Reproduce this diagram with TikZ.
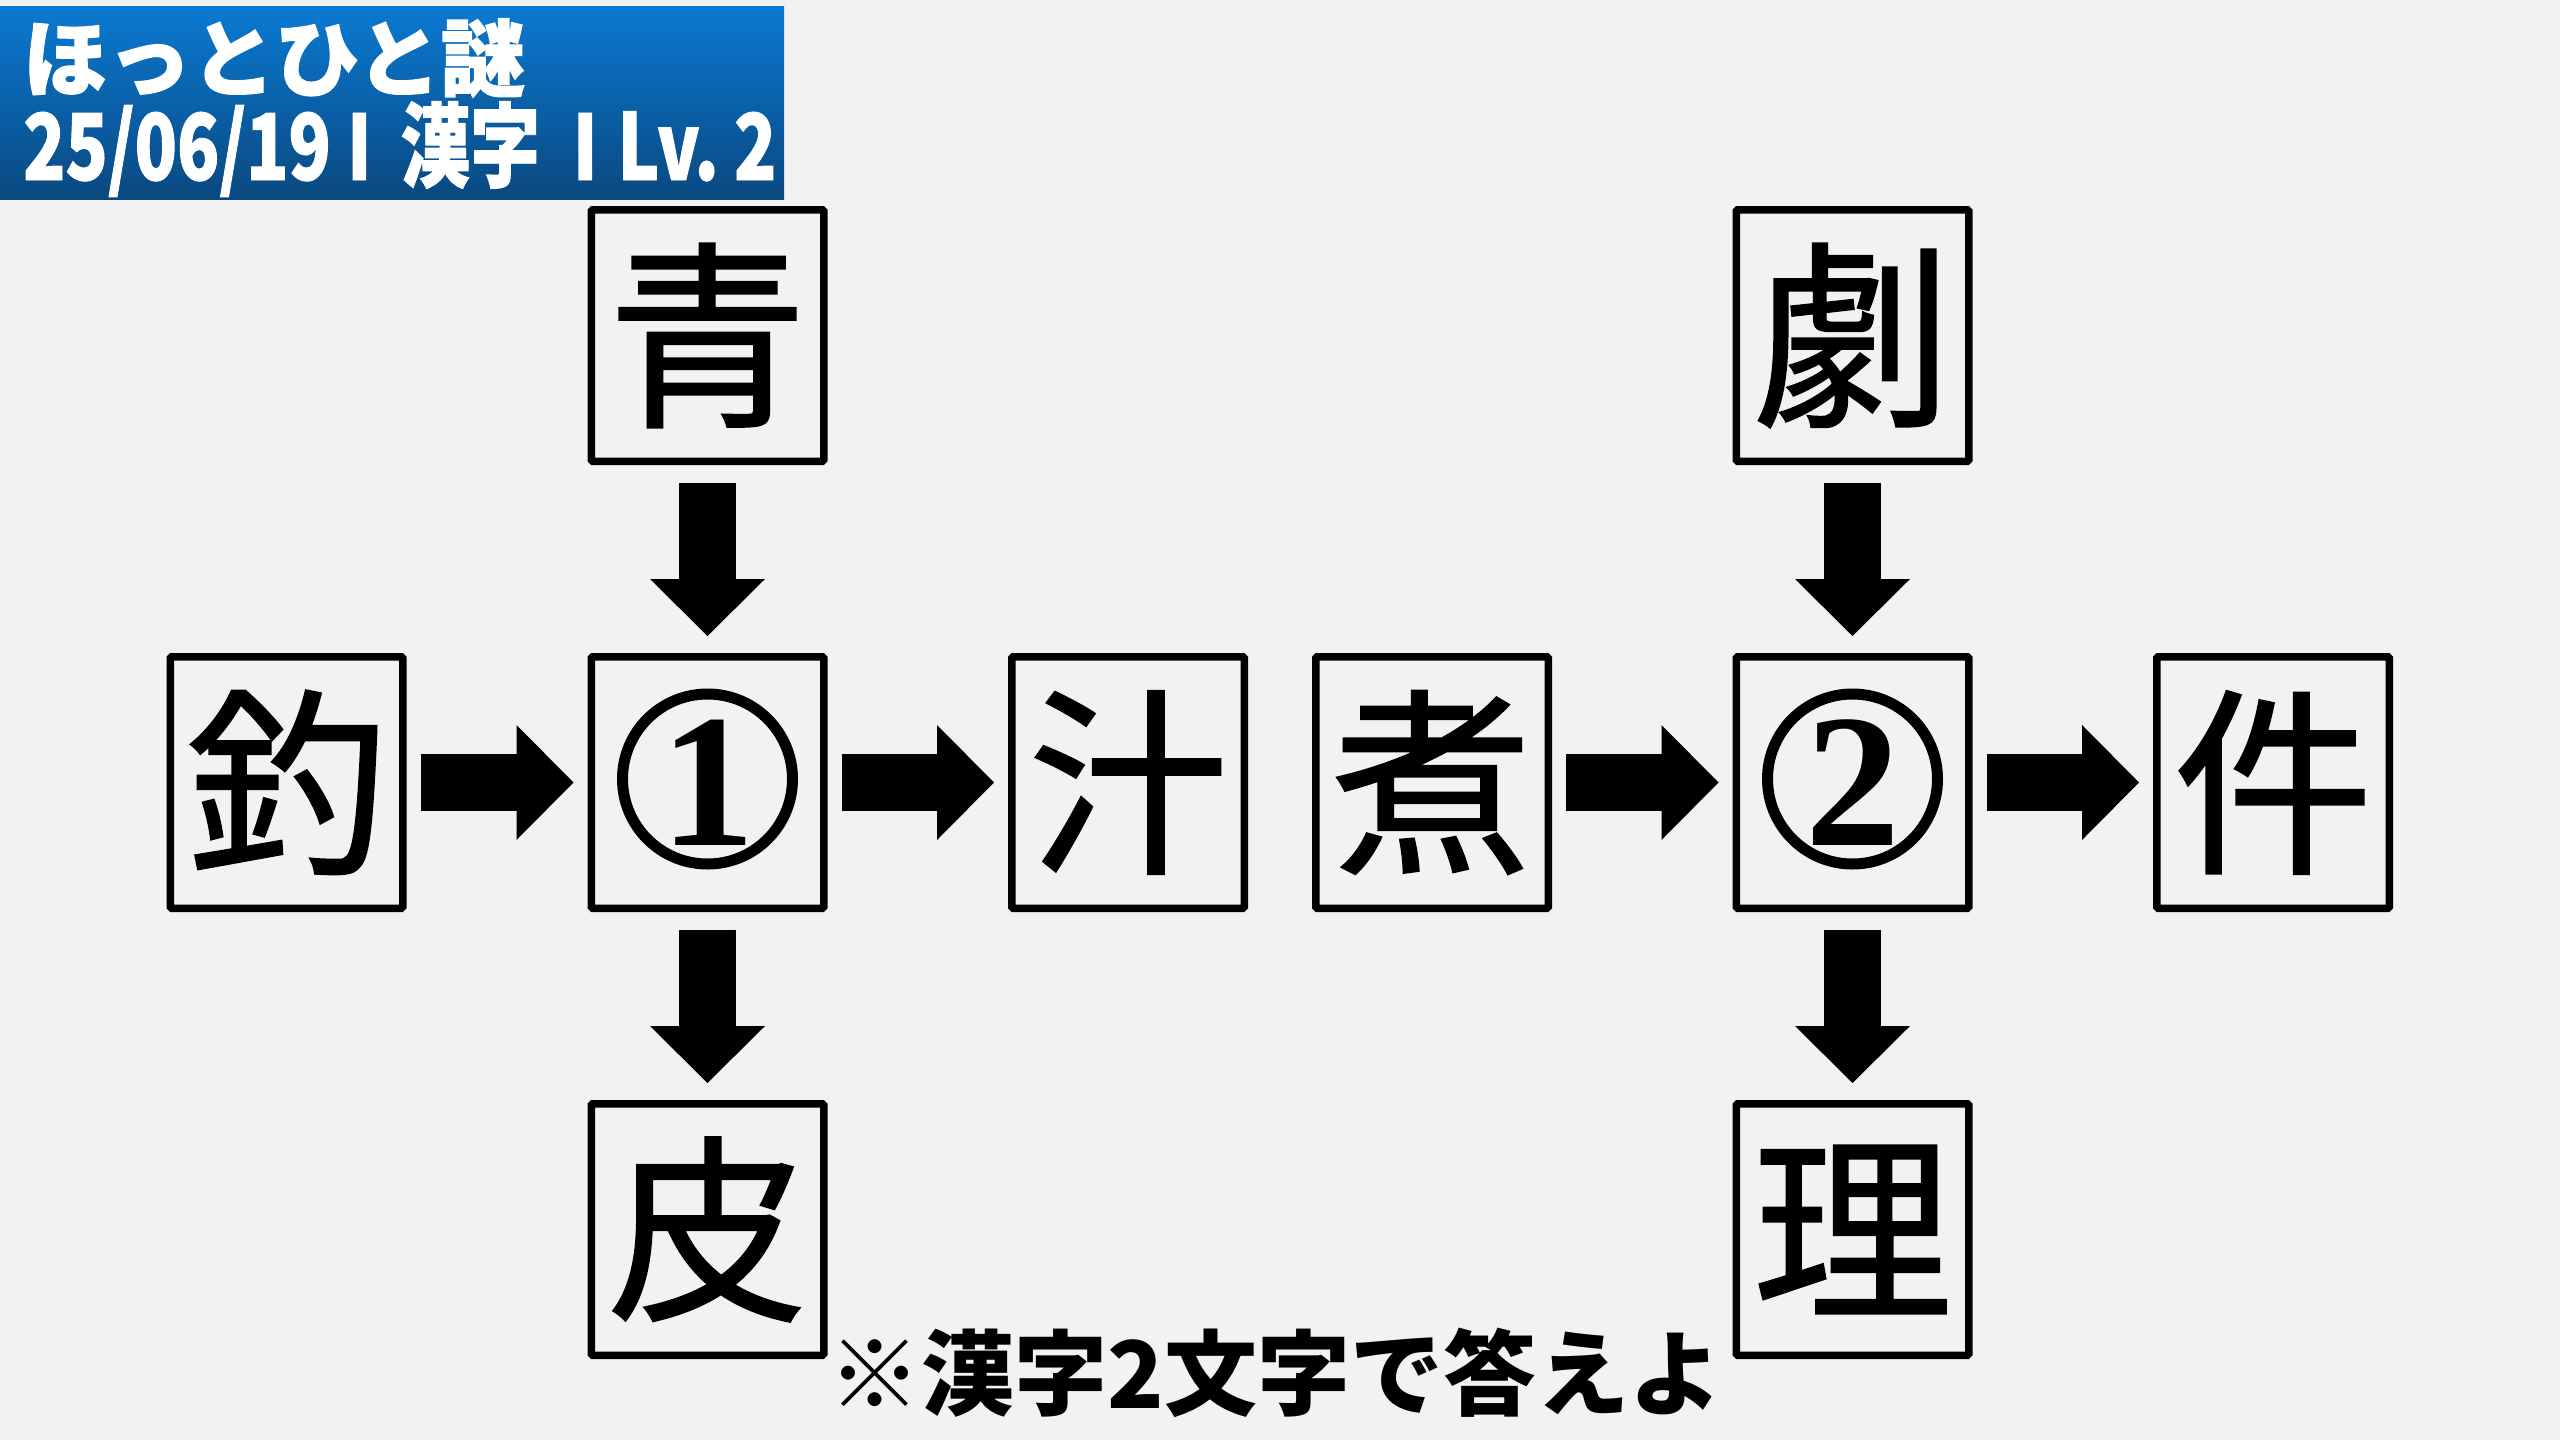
\documentclass[tikz,border=0pt]{standalone}
\usepackage{fontspec}
\usetikzlibrary{arrows.meta}
\newfontfamily\cjk{Noto Sans CJK JP}
\newfontfamily\cjkh{Noto Sans CJK JP}[FakeBold=1.5]
\newfontfamily\cjkk{Noto Sans CJK JP}[FakeBold=1]
\newfontfamily\cjkcond{Noto Sans CJK JP}[FakeStretch=0.756,FakeBold=1]
\newfontfamily\numfont{Liberation Serif}
\newcommand{\vbarglyph}{\raisebox{\depth}{\resizebox*{33pt}{67pt}{|}}}
\definecolor{bg}{HTML}{F2F2F2}
\definecolor{hdtop}{HTML}{0A7AD2}
\definecolor{hdbot}{HTML}{0A4880}
\begin{document}
\begin{tikzpicture}[x=1pt,y=-1pt,
  kbox/.style={draw=black, line width=7.5pt, minimum width=232.5pt, minimum height=251.5pt,
    inner sep=0pt, rounded corners=1.5pt, font=\cjkk\fontsize{200}{200}\selectfont},
  numbox/.style={kbox, font=\numfont\bfseries\fontsize{190}{190}\selectfont,
    path picture={\draw[line width=11pt] ([yshift=3.5pt]path picture bounding box.center) circle[radius=85pt];}},
  bigarrow/.style={line width=57pt, -{Triangle[width=115pt,length=57pt,line width=0pt]}},
  harrow/.style={bigarrow, shorten <=14pt, shorten >=14pt},
  varrow/.style={bigarrow, shorten <=17.5pt, shorten >=17pt},
  hdtext/.style={anchor=base west, inner sep=0pt, text=white}
]
\useasboundingbox (0,0) rectangle (2560,1440);
\fill[bg] (0,0) rectangle (2560,1440);
% header
\shade[top color=hdtop, bottom color=hdbot] (0,6) rectangle (784,199);
\node[hdtext, font=\cjkh\bfseries\fontsize{84}{84}\selectfont] (title) at (23,90) {ほっとひと謎};
\node[hdtext, font=\cjkcond\bfseries\fontsize{92}{92}\selectfont] (sub) at (23,180)
  {25/06/19 \kern-4pt\vbarglyph{} \kern9pt 漢字 \kern13pt\vbarglyph{} L\kern-2pt v.\kern-3pt{} \kern-3pt 2};
% boxes
\node[kbox] (ao) at (707.5,335.5) {青};
\node[numbox] (n1) at (707.5,782.5) {1};
\node[kbox] (kawa) at (707.5,1229.5) {皮};
\node[kbox] (tsuri) at (286.5,782.5) {釣};
\node[kbox] (shiru) at (1128,782.5) {汁};
\node[kbox] (ni) at (1432,782.5) {煮};
\node[numbox] (n2) at (1852.5,782.5) {2};
\node[kbox] (ken) at (2273,782.5) {件};
\node[kbox] (geki) at (1852.5,335.5) {劇};
\node[kbox] (ri) at (1852.5,1229.5) {理};
% arrows
\draw[varrow] (ao) -- (n1);
\draw[harrow] (tsuri) -- (n1);
\draw[harrow] (n1) -- (shiru);
\draw[varrow] (n1) -- (kawa);
\draw[varrow] (geki) -- (n2);
\draw[harrow] (ni) -- (n2);
\draw[harrow] (n2) -- (ken);
\draw[varrow] (n2) -- (ri);
% note
\node[inner sep=0pt, font=\cjk\bfseries\fontsize{93}{93}\selectfont] (note) at (1275.5,1373) {※漢字2文字で答えよ};
\end{tikzpicture}
\end{document}
